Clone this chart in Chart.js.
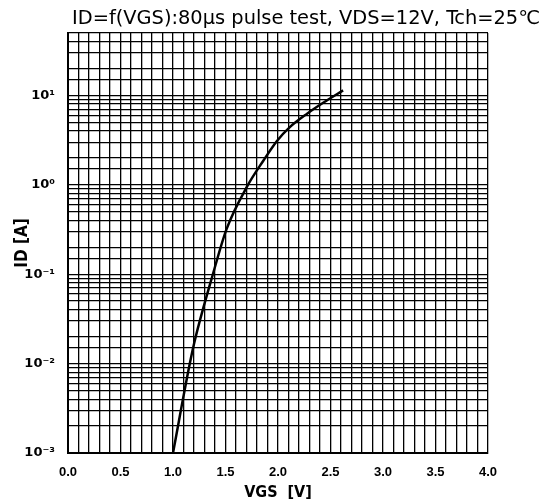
<!doctype html>
<html lang="en">
  <head>
    <meta charset="utf-8">
    <title>ID=f(VGS)</title>
    <style>
      * { margin: 0; padding: 0; }
      body { background: white; }
      .chartBox { width: 541px; height: 504px; }
    </style>
  </head>
  <body>
    <div class="chartBox">
      <canvas id="myChart" width="541" height="504"></canvas>
    </div>
    <script src="https://cdn.jsdelivr.net/npm/chart.js"></script>
    <script>
    // data
    const vgs = [1.00, 1.16, 1.21, 1.38, 1.51, 1.71, 1.86, 1.99, 2.11, 2.28, 2.43, 2.62];
    const id  = [0.001, 0.01, 0.0186, 0.1, 0.32, 0.98, 1.86, 3.1, 4.4, 6.3, 8.3, 11.4];
    const xTicks = [0.0, 0.5, 1.0, 1.5, 2.0, 2.5, 3.0, 3.5, 4.0];
    const yDecades = [-3, -2, -1, 0, 1];
    const titleText = 'ID=f(VGS):80μs pulse test, VDS=12V, Tch=25℃';

    const sup = {'-': '⁻', '0': '⁰', '1': '¹', '2': '²', '3': '³'};
    const points = vgs.map((v, i) => ({x: v, y: id[i]}));

    const data = {
      datasets: [{
        data: points,
        borderColor: '#000',
        borderWidth: 2.5,
        pointRadius: 0,
        cubicInterpolationMode: 'monotone',
        fill: false
      }]
    };

    // title is stretched over the top like in the scan
    const topTitle = {
      id: 'topTitle',
      afterDraw(chart) {
        const ctx = chart.ctx;
        ctx.save();
        ctx.font = '19px "DejaVu Sans Condensed"';
        ctx.fillStyle = '#000';
        ctx.textBaseline = 'alphabetic';
        const w = ctx.measureText(titleText).width;
        const target = 468;
        ctx.translate(72, 24);
        ctx.scale(target / w, 1);
        ctx.fillText(titleText, 0, 0);
        ctx.restore();
      }
    };

    const config = {
      type: 'line',
      data,
      plugins: [topTitle],
      options: {
        responsive: false,
        animation: false,
        layout: {padding: {left: 0, right: 53, top: 33, bottom: 0}},
        plugins: {
          legend: {display: false},
          tooltip: {enabled: false},
          title: {display: false}
        },
        scales: {
          x: {
            type: 'linear',
            min: 0,
            max: 4,
            grid: {color: '#000', lineWidth: 1.3, drawTicks: false},
            border: {color: '#000', width: 2},
            ticks: {
              stepSize: 0.1,
              autoSkip: false,
              maxRotation: 0,
              padding: 12,
              color: '#000',
              font: {family: 'Liberation Sans', size: 13, weight: 'bold'},
              callback: v => {
                const hit = xTicks.find(t => Math.abs(t - v) < 1e-6);
                return hit === undefined ? '' : hit.toFixed(1);
              }
            },
            title: {
              display: true,
              text: 'VGS  [V]',
              color: '#000',
              font: {family: 'DejaVu Sans Condensed', size: 16, weight: 'bold'},
              padding: {top: 0, bottom: 2}
            },
            afterFit: s => { s.height = 51; }
          },
          y: {
            type: 'logarithmic',
            min: 0.001,
            max: 50,
            grid: {color: '#000', lineWidth: 1.3, drawTicks: false},
            border: {color: '#000', width: 2},
            ticks: {
              autoSkip: false,
              padding: 13,
              color: '#000',
              font: {family: 'DejaVu Sans', size: 13, weight: 'bold'},
              callback: v => {
                const e = Math.log10(v);
                const r = Math.round(e);
                if (Math.abs(e - r) > 1e-6 || !yDecades.includes(r)) return '';
                return '10' + String(r).split('').map(c => sup[c]).join('');
              }
            },
            title: {
              display: true,
              text: 'ID [A]',
              color: '#000',
              font: {family: 'DejaVu Sans Condensed', size: 17, weight: 'bold'},
              padding: {top: 12, bottom: 0}
            },
            afterFit: s => { s.width = 68; }
          }
        }
      }
    };

    const myChart = new Chart(document.getElementById('myChart'), config);
    </script>
  </body>
</html>
